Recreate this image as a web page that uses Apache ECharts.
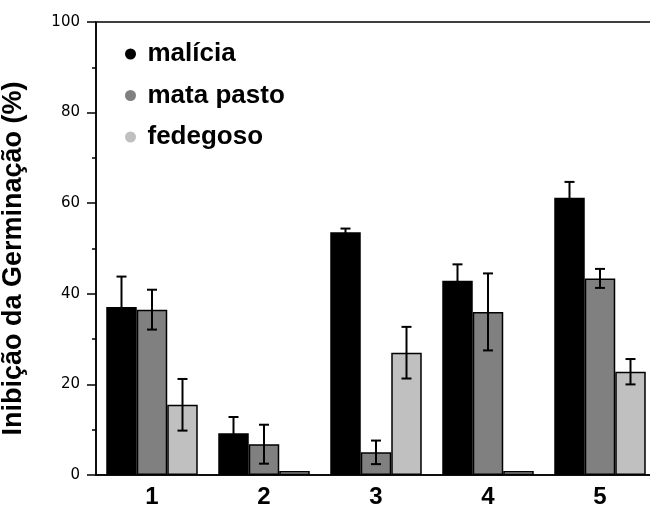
<!DOCTYPE html>
<html>
<head>
<meta charset="utf-8">
<script src="https://cdn.jsdelivr.net/npm/echarts@6/dist/echarts.min.js"></script>
<style>
  html, body { margin: 0; padding: 0; background: #fff; }
  #chart { width: 650px; height: 509px; }
</style>
</head>
<body>
<div id="chart"></div>
<script>
// dados
const categories = ['1', '2', '3', '4', '5'];
const seriesNames = ['malícia', 'mata pasto', 'fedegoso'];
const malicia = [37.1, 9.2, 53.6, 42.9, 61.2];
const maliciaErr = [6.7, 3.6, 0.8, 3.6, 3.5];
const mataPasto = [36.5, 6.8, 5.0, 36.0, 43.4];
const mataPastoErr = [4.4, 4.3, 2.6, 8.5, 2.1];
const fedegoso = [15.5, 0.3, 27.0, 0.3, 22.8];
const fedegosoErr = [5.7, 0, 5.7, 0, 2.8];
const yTicks = [0, 20, 40, 60, 80, 100];

const colors = ['#000000', '#808080', '#c0c0c0'];
const BAR_W = 30.5;

const chart = echarts.init(document.getElementById('chart'));

function barSeries(name, data, color) {
  return {
    name: name,
    type: 'bar',
    data: data,
    barWidth: BAR_W,
    barGap: '0%',
    barMinHeight: 4,
    itemStyle: { color: color, borderColor: '#000', borderWidth: 1.5 }
  };
}

// barras de erro desenhadas por cima das barras
function errorSeries(idx, values, errs) {
  return {
    type: 'custom',
    z: 10,
    silent: true,
    encode: { x: 0, y: 1 },
    data: values.map((v, i) => [i, v, errs[i]]),
    renderItem: function (params, api) {
      const x = api.value(0), v = api.value(1), e = api.value(2);
      if (!e) return null;
      const hi = api.coord([x, v + e]);
      const lo = api.coord([x, v - e]);
      const cx = hi[0] + (idx - 1) * BAR_W;
      const style = { stroke: '#000', lineWidth: 2 };
      return {
        type: 'group',
        children: [
          { type: 'line', shape: { x1: cx, y1: hi[1], x2: cx, y2: lo[1] }, style: style },
          { type: 'line', shape: { x1: cx - 5, y1: hi[1], x2: cx + 5, y2: hi[1] }, style: style },
          { type: 'line', shape: { x1: cx - 5, y1: lo[1], x2: cx + 5, y2: lo[1] }, style: style }
        ]
      };
    }
  };
}

const options = {
  animation: false,
  grid: {
    left: 96, right: -6, top: 22, bottom: 34,
    containLabel: false,
    outerBoundsMode: 'none',
    show: true, borderColor: '#000', borderWidth: 1.5
  },
  legend: {
    orient: 'vertical',
    left: 120,
    top: 36,
    icon: 'circle',
    itemWidth: 24,
    itemHeight: 11,
    itemGap: 15.5,
    data: seriesNames,
    itemStyle: { borderWidth: 0 },
    textStyle: {
      fontFamily: 'Liberation Sans', fontWeight: 'bold', fontSize: 26,
      lineHeight: 26, color: '#000'
    }
  },
  xAxis: {
    type: 'category',
    data: categories,
    axisTick: { show: false },
    axisLine: { lineStyle: { color: '#000', width: 1.5 } },
    axisLabel: {
      margin: 10, color: '#000',
      fontFamily: 'Liberation Sans', fontWeight: 'bold', fontSize: 24
    }
  },
  yAxis: {
    type: 'value',
    min: yTicks[0],
    max: yTicks[yTicks.length - 1],
    interval: yTicks[1] - yTicks[0],
    name: 'Inibição da Germinação (%)',
    nameLocation: 'middle',
    nameRotate: 90,
    nameGap: 69,
    nameTextStyle: {
      fontFamily: 'Liberation Sans', fontWeight: 'bold', fontSize: 27,
      color: '#000', padding: [0, 20, 0, 0]
    },
    splitLine: { show: false },
    axisLine: { show: true, lineStyle: { color: '#000', width: 1.5 } },
    axisTick: { show: true, length: 9, lineStyle: { color: '#000', width: 1.5 } },
    minorTick: { show: true, splitNumber: 2, length: 4, lineStyle: { color: '#000', width: 1.5 } },
    minorSplitLine: { show: false },
    axisLabel: {
      margin: 16, color: '#000',
      fontFamily: 'DejaVu Sans', fontSize: 15
    }
  },
  series: [
    barSeries(seriesNames[0], malicia, colors[0]),
    barSeries(seriesNames[1], mataPasto, colors[1]),
    barSeries(seriesNames[2], fedegoso, colors[2]),
    errorSeries(0, malicia, maliciaErr),
    errorSeries(1, mataPasto, mataPastoErr),
    errorSeries(2, fedegoso, fedegosoErr)
  ]
};

chart.setOption(options);
</script>
</body>
</html>
